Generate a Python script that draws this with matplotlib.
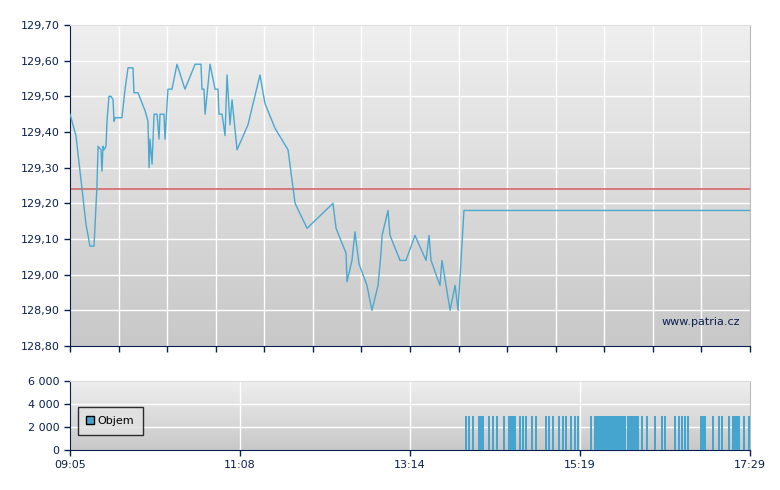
import matplotlib
matplotlib.use("Agg")
import matplotlib.pyplot as plt
import numpy as np
from matplotlib.colors import LinearSegmentedColormap

# minutes after 09:05
price_t = [0,4.4,8.9,11.9,14.8,17.8,20,20.8,23,23.7,24.5,25.2,26.7,27.4,28.9,30.4,31.9,32.6,33.4,38.5,40.8,43,46.7,47.4,50.4,55.6,57.8,58.6,59.3,60.8,62.3,64.5,66,66.7,69.7,70.4,72.6,75.6,79.3,85.2,92.7,97.1,97.8,99.3,100.1,103.8,107.5,109.7,110.4,112.7,114.9,116.4,118.6,120.1,123.8,131.9,140.8,144.5,152,161.6,166.8,175.7,194.9,197.2,204.6,205.3,209,211.2,214.2,220.1,223.8,228.3,230.5,231.3,235.7,237.2,244.6,249,255.7,263.9,266.1,267.6,274.2,275.7,281.7,285.4,287.6,292,504]
price_v = [129.45,129.39,129.24,129.14,129.08,129.08,129.25,129.36,129.35,129.29,129.36,129.35,129.36,129.43,129.50,129.50,129.49,129.43,129.44,129.44,129.52,129.58,129.58,129.51,129.51,129.46,129.43,129.30,129.38,129.31,129.45,129.45,129.38,129.45,129.45,129.38,129.52,129.52,129.59,129.52,129.59,129.59,129.52,129.52,129.45,129.59,129.52,129.52,129.45,129.45,129.39,129.56,129.42,129.49,129.35,129.42,129.56,129.48,129.41,129.35,129.20,129.13,129.20,129.13,129.06,128.98,129.04,129.12,129.03,128.97,128.90,128.97,129.06,129.11,129.18,129.11,129.04,129.04,129.11,129.04,129.11,129.04,128.97,129.04,128.90,128.97,128.90,129.18,129.18]
prev_close = 129.24

vol_t = [293.5,295.7,298.7,303.2,304.6,306.1,310.5,313.5,316.4,321.6,325.3,326.9,328.3,329.8,333.5,335.8,338,342.4,345.4,352.8,355,358,362.4,365.4,367.6,371.3,374.3,376.5,386.2,389.1,390.6,392.1,393.6,395.1,396.5,398,399.5,401,402.5,404,405.4,406.9,408.4,409.9,411.4,413.6,415.1,416.6,418,419.5,421,424,427.7,433.6,438.8,441,448.4,451.4,453.6,455.8,458.1,467.7,469.2,470.7,476.6,481,483.3,488.5,491.4,492.9,494.4,495.9,499.6,503.3]
vol_v = [3000]*len(vol_t)

x_labels = ["09:05", "11:08", "13:14", "15:19", "17:29"]
total = 504

navy = "#0a1f4f"
fig = plt.figure(figsize=(7.8, 4.9), dpi=100)
W, H = 780, 490
ax = fig.add_axes([70/W, 1-346/H, 680/W, 321/H])
ax2 = fig.add_axes([70/W, 1-450/H, 680/W, 69/H])

def bg(a, lo, hi, top="#efefef", bot="#c8c8c8"):
    grad = np.linspace(0, 1, 256).reshape(-1, 1)
    cm = LinearSegmentedColormap.from_list("g", [top, bot])
    a.imshow(grad, aspect="auto", cmap=cm, extent=[0, total, lo, hi], origin="upper", zorder=0)

bg(ax, 128.8, 129.7)
ax.set_xlim(0, total); ax.set_ylim(128.8, 129.7)
yt = np.round(np.arange(128.8, 129.71, 0.1), 2)
ax.set_yticks(yt)
ax.set_yticklabels([f"{v:.2f}".replace(".", ",") for v in yt], color=navy, fontsize=8)
gx = np.linspace(0, total, 15)
ax.set_xticks(gx); ax.set_xticklabels([])
for v in yt[1:]:
    ax.axhline(v, color="white", lw=1, zorder=1)
for v in gx[1:-1]:
    ax.axvline(v, color="white", lw=1, zorder=1)
ax.axhline(prev_close, color="#d97070", lw=1.3, zorder=2)
ax.plot(price_t, price_v, color="#4aa8d0", lw=1, zorder=3)
ax.text(0.985, 0.06, "www.patria.cz", transform=ax.transAxes, ha="right", va="bottom", fontsize=8, color=navy)

bg(ax2, 0, 6000)
ax2.set_xlim(0, total); ax2.set_ylim(0, 6000)
ax2.set_yticks([0, 2000, 4000, 6000])
ax2.set_yticklabels(["0", "2 000", "4 000", "6 000"], color=navy, fontsize=8)
xt = np.linspace(0, total, 5)
ax2.set_xticks(xt); ax2.set_xticklabels(x_labels, color=navy, fontsize=8)
for v in [2000, 4000]:
    ax2.axhline(v, color="white", lw=1, zorder=1)
for v in xt[1:-1]:
    ax2.axvline(v, color="white", lw=1, zorder=1)
ax2.bar(vol_t, vol_v, width=1.6, color="#45a5cf", zorder=3, label="Objem")
leg = ax2.legend(loc="center left", bbox_to_anchor=(0.003, 0.42), fontsize=8, frameon=True, fancybox=False,
                 handlelength=0.7, handleheight=0.7, handletextpad=0.3, borderpad=0.8, edgecolor="black")
leg.get_frame().set_facecolor("#e2e2e2")
leg.legend_handles[0].set_edgecolor("black")

for a in (ax, ax2):
    a.spines["left"].set_color(navy); a.spines["bottom"].set_color(navy)
    a.spines["top"].set_color("#dddddd"); a.spines["right"].set_color("#bbbbbb")
    a.tick_params(colors=navy, length=4, width=1, labelsize=8)

fig.savefig("out.png", dpi=100)
